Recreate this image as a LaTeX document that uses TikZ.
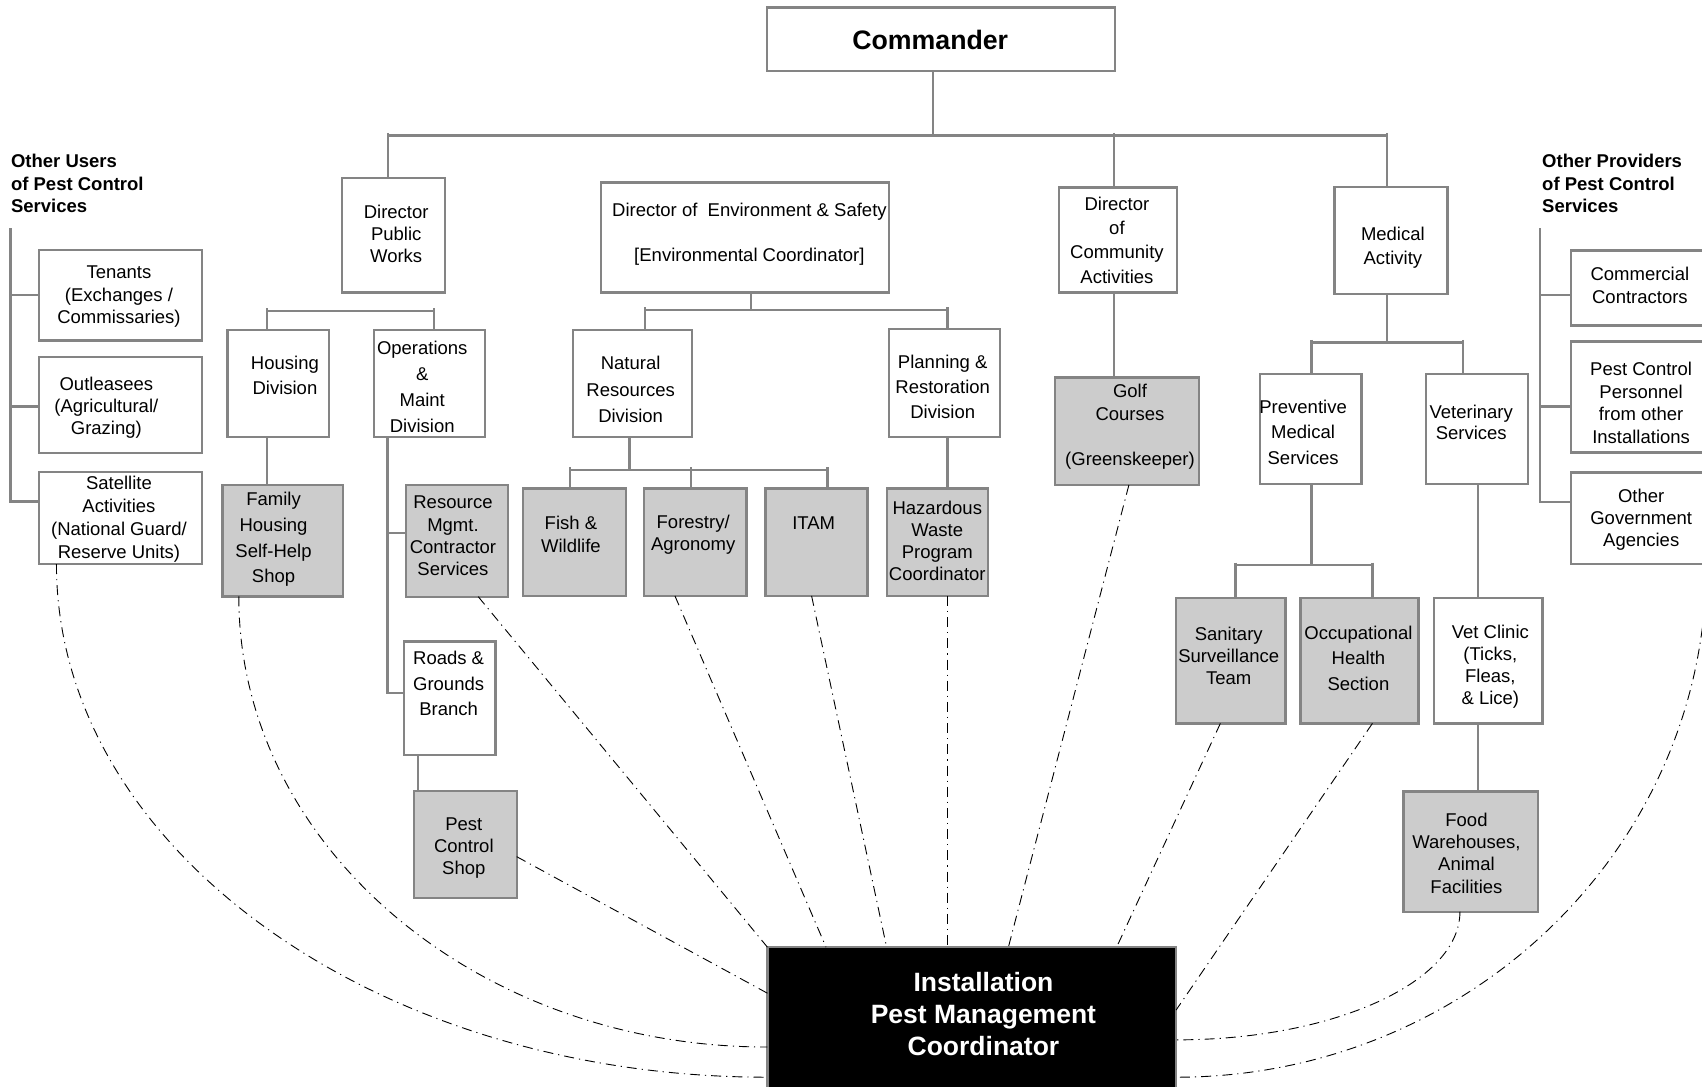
\documentclass[tikz,border=0pt]{standalone}
\usepackage{fontspec}
\setmainfont{Liberation Sans}
\usetikzlibrary{fit,calc}
\definecolor{lgray}{RGB}{132,132,132}
\definecolor{boxgray}{RGB}{204,204,204}
\begin{document}
\begin{tikzpicture}[x=1.0855pt, y=-1.0855pt,
  box/.style={rectangle, draw=lgray, line width=2.3pt, fill=white, inner sep=0pt, outer sep=0pt},
  gbox/.style={box, fill=boxgray},
  conn/.style={draw=lgray, line width=2.3pt},
  dd/.style={draw=black, line width=0.9pt, dash pattern=on 10pt off 5pt on 1.2pt off 5pt},
  txt/.style={align=center, inner sep=0pt, yshift=-1.5pt, font=\fontsize{18.5}{#1}\selectfont},
  txt/.default=22.4,
  hdr/.style={align=left, anchor=west, inner sep=0pt, font=\bfseries\fontsize{18.5}{22.5}\selectfont}]

\path[use as bounding box, fill=white] (0,0) rectangle (1568,1001);

% ---------- boxes ----------
\node[box, fit={(706.4,6.8) (1027.2,65.1)}] (cmd) {};
\node[box, fit={(315.3,164.3) (409.8,269.6)}] (dpw) {};
\node[box, fit={(553.7,168) (818.7,269.6)}] (ens) {};
\node[box, fit={(975.9,172.6) (1084,269.6)}] (dca) {};
\node[box, fit={(1229.4,172) (1333.5,270.8)}] (med) {};
\node[box, fit={(36,230.3) (186,313.8)}] (ten) {};
\node[box, fit={(36,328.6) (186,417.6)}] (outl) {};
\node[box, fit={(36,435) (186,519.6)}] (sat) {};
\node[box, fit={(1447,230.9) (1576,300)}] (comm) {};
\node[box, fit={(1447,314.7) (1576,417)}] (pcp) {};
\node[box, fit={(1447,435.4) (1576,519.9)}] (ogov) {};
\node[box, fit={(209.7,304) (303,402.3)}] (hdiv) {};
\node[box, fit={(344.5,304) (446.8,402.9)}] (opsd) {};
\node[box, fit={(527.9,304) (637.5,402.3)}] (nrd) {};
\node[box, fit={(819,303.4) (921.2,402.9)}] (prd) {};
\node[gbox, fit={(971.9,347.9) (1104.9,446.8)}] (golf) {};
\node[box, fit={(1160.6,344.6) (1254.4,446.2)}] (pms) {};
\node[box, fit={(1314,344.6) (1408,446.2)}] (vets) {};
\node[gbox, fit={(205,446.8) (316,549.5)}] (fhs) {};
\node[gbox, fit={(373.8,446.8) (468.3,549.7)}] (rmc) {};
\node[box, fit={(372.2,591) (456.6,695.5)}] (roads) {};
\node[gbox, fit={(381.7,728.7) (476,827.6)}] (pcs) {};
\node[gbox, fit={(482,449.9) (576.5,549)}] (fw) {};
\node[gbox, fit={(593.1,449.9) (687.6,549)}] (fa) {};
\node[gbox, fit={(705.2,449.9) (799.3,549)}] (itam) {};
\node[gbox, fit={(817,449.9) (910.5,549)}] (hw) {};
\node[gbox, fit={(1083.7,551.2) (1184.3,666.4)}] (sst) {};
\node[gbox, fit={(1198.2,551.2) (1306.9,666.4)}] (ohs) {};
\node[box, fit={(1320.9,551.2) (1421.1,666.4)}] (vcl) {};
\node[gbox, fit={(1293,729.3) (1416.9,839.9)}] (food) {};
\node[box, fill=black, fit={(707,872.6) (1083.5,1012)}] (pmc) {};

% ---------- solid connectors ----------
\coordinate (mb-l) at (357.6,124.8);
\coordinate (mb-c) at (859.4,124.8);
\coordinate (mb-d) at (1026.5,124.8);
\coordinate (mb-r) at (1277.8,124.8);
\draw[conn] (mb-l) -- (mb-r);
\draw[conn] (cmd.south -| mb-c) -- (mb-c);
\draw[conn] ([yshift=2.7pt]mb-l) -- (dpw.north -| mb-l);
\draw[conn] ([yshift=2.7pt]mb-d) -- (dca.north -| mb-d);
\draw[conn] ([yshift=2.7pt]mb-r) -- (med.north -| mb-r);

\coordinate (db-l) at (246,286.5);
\coordinate (db-r) at (400,286.5);
\draw[conn] (db-l) -- (db-r);
\draw[conn] ([yshift=2.7pt]db-l) -- (hdiv.north -| db-l);
\draw[conn] ([yshift=2.7pt]db-r) -- (opsd.north -| db-r);
\draw[conn] (hdiv.south -| db-l) -- (fhs.north -| db-l);

\coordinate (eb-l) at (594.2,285.6);
\coordinate (eb-c) at (691.8,285.6);
\coordinate (eb-r) at (873,285.6);
\draw[conn] (eb-l) -- (eb-r);
\draw[conn] (ens.south -| eb-c) -- (eb-c);
\draw[conn] ([yshift=2.7pt]eb-l) -- (nrd.north -| eb-l);
\draw[conn] ([yshift=2.7pt]eb-r) -- (prd.north -| eb-r);
\draw[conn] (prd.south -| eb-r) -- (hw.north -| eb-r);

\coordinate (nb-l) at (525,433);
\coordinate (nb-c) at (580,433);
\coordinate (nb-m) at (636.5,433);
\coordinate (nb-r) at (762.3,433);
\draw[conn] (nb-l) -- (nb-r);
\draw[conn] (nrd.south -| nb-c) -- (nb-c);
\draw[conn] ([yshift=2.7pt]nb-l) -- (fw.north -| nb-l);
\draw[conn] ([yshift=2.7pt]nb-m) -- (fa.north -| nb-m);
\draw[conn] ([yshift=2.7pt]nb-r) -- (itam.north -| nb-r);

\coordinate (ov) at (357.1,0);
\draw[conn] (opsd.south -| ov) -- (ov |- 0,638.7) -- (roads.west |- 0,638.7);
\draw[conn] (ov |- 0,491.3) -- (rmc.west |- 0,491.3);
\draw[conn] (roads.south -| 385.4,0) -- (pcs.north -| 385.4,0);

\draw[conn] (dca.south -| mb-d) -- (golf.north -| mb-d);

\coordinate (kb-l) at (1208.2,315.5);
\coordinate (kb-r) at (1348.1,315.5);
\draw[conn] (kb-l) -- (kb-r);
\draw[conn] (med.south -| mb-r) -- (mb-r |- kb-l);
\draw[conn] ([yshift=2.7pt]kb-l) -- (pms.north -| kb-l);
\draw[conn] ([yshift=2.7pt]kb-r) -- (vets.north -| kb-r);
\coordinate (pb-l) at (1138.3,520.8);
\coordinate (pb-r) at (1264.4,520.8);
\draw[conn] (pb-l) -- (pb-r);
\draw[conn] (pms.south -| kb-l) -- (kb-l |- pb-l);
\draw[conn] ([yshift=2.7pt]pb-l) -- (sst.north -| pb-l);
\draw[conn] ([yshift=2.7pt]pb-r) -- (ohs.north -| pb-r);
\draw[conn] (vets.south -| 1361.7,0) -- (vcl.north -| 1361.7,0);
\draw[conn] (vcl.south -| 1361.7,0) -- (food.north -| 1361.7,0);

\draw[conn] (9.8,210.4) -- (9.8,462) -- (sat.west |- 0,462);
\draw[conn] (9.8,271.8) -- (ten.west |- 0,271.8);
\draw[conn] (9.8,374.6) -- (outl.west |- 0,374.6);
\draw[conn] (1418.5,210.4) -- (1418.5,462.2) -- (ogov.west |- 0,462.2);
\draw[conn] (1418.5,271.8) -- (comm.west |- 0,271.8);
\draw[conn] (1418.5,374.6) -- (pcp.west |- 0,374.6);

% ---------- dash-dot links ----------
\draw[dd] (sat.south -| 52,0) .. controls (52,780.7) and (345.2,992.4) .. (pmc.west |- 0,992.4);
\draw[dd] (fhs.south -| 220,0) .. controls (220,778.8) and (438,964.6) .. (pmc.west |- 0,964.6);
\draw[dd] (rmc.south -| 440.6,0) -- (pmc.north west);
\draw[dd] (pcs.east |- 0,789.2) -- (pmc.west |- 0,915);
\draw[dd] (fa.south -| 621.8,0) -- (pmc.north -| 761,0);
\draw[dd] (itam.south -| 747.7,0) -- (pmc.north -| 816.8,0);
\draw[dd] (hw.south -| 873,0) -- (pmc.north -| 873,0);
\draw[dd] (golf.south -| 1040,0) -- (pmc.north -| 929,0);
\draw[dd] (sst.south -| 1124.3,0) -- (pmc.north -| 1028.7,0);
\draw[dd] (ohs.south -| 1264.4,0) -- (pmc.east |- 0,930.5);
\draw[dd] (food.south -| 1345,0) .. controls (1345,905.1) and (1227.9,958) .. (pmc.east |- 0,958);
\draw[dd] (ogov.south -| 1572,0) .. controls (1572,780.9) and (1353.3,992.4) .. (pmc.east |- 0,992.4);

% ---------- texts ----------
\node[inner sep=0pt, font=\bfseries\fontsize{26.7}{30}\selectfont] (cmd-t) at (857,36.9) {Commander};
\node[hdr] (lh) at (10,169) {Other Users\\of Pest Control\\Services};
\node[hdr] (rh) at (1420.6,169) {Other Providers\\of Pest Control\\Services};
\node[txt=22.5] (ten-t) at (109.6,272) {Tenants\\(Exchanges /\\Commissaries)};
\node[txt=22.3] (outl-t) at (98,374.4) {Outleasees\\(Agricultural/\\Grazing)};
\node[txt=22.9] (sat-t) at (109.6,476.9) {Satellite\\Activities\\(National Guard/\\Reserve Units)};
\node[txt=21.7] (dpw-t) at (365,214.1) {Director\\Public\\Works};
\node[txt=22.2] (ens-t) at (690.4,214.5) {Director of\ \ Environment \& Safety\\[22.2pt]{[}Environmental Coordinator]};
\node[txt=24.2] (dca-t) at (1029,219.9) {Director\\of\\Community\\Activities};
\node[txt=24.3] (med-t) at (1283.2,226.8) {Medical\\Activity};
\node[txt=25] (hdiv-t) at (262.5,344.7) {Housing\\Division};
\node[txt=25.8] (opsd-t) at (389,355) {Operations\\\&\\Maint\\Division};
\node[txt=26.3] (nrd-t) at (581,357.5) {Natural\\Resources\\Division};
\node[txt=25] (prd-t) at (868.5,355.3) {Planning \&\\Restoration\\Division};
\node[txt=22.4] (golf-t) at (1041,392) {Golf\\Courses\\[23pt](Greenskeeper)};
\node[txt=25.5] (pms-t) at (1200.5,396.6) {Preventive\\Medical\\Services};
\node[txt=21.7] (vets-t) at (1355.4,387.7) {Veterinary\\Services};
\node[txt=22.4] (comm-t) at (1510.8,261.5) {Commercial\\Contractors};
\node[txt=22.4] (pcp-t) at (1511.9,369.7) {Pest Control\\Personnel\\from other\\Installations};
\node[txt=22] (ogov-t) at (1512,477.2) {Other\\Government\\Agencies};
\node[txt=25.8] (fhs-t) at (252,495.5) {Family\\Housing\\Self-Help\\Shop};
\node[txt=22.3] (rmc-t) at (417.3,492.3) {Resource\\Mgmt.\\Contractor\\Services};
\node[txt=25.5] (roads-t) at (413.3,628.5) {Roads \&\\Grounds\\Branch};
\node[txt=21.7] (pcs-t) at (427.3,780) {Pest\\Control\\Shop};
\node[txt=22.8] (fw-t) at (526,491) {Fish \&\\Wildlife};
\node[txt=22.8] (fa-t) at (638.6,491.2) {Forestry/\\Agronomy};
\node[txt] (itam-t) at (749.6,480.3) {ITAM};
\node[txt=22] (hw-t) at (863.5,496.5) {Hazardous\\Waste\\Program\\Coordinator};
\node[txt=22] (sst-t) at (1132,603.1) {Sanitary\\Surveillance\\Team};
\node[txt=25.8] (ohs-t) at (1251.5,605.1) {Occupational\\Health\\Section};
\node[txt=21.9] (vcl-t) at (1373,613) {Vet Clinic\\(Ticks,\\Fleas,\\\& Lice)};
\node[txt=22.2] (food-t) at (1351,784.6) {Food\\Warehouses,\\Animal\\Facilities};
\node[txt, text=white, font=\bfseries\fontsize{26.5}{31.8}\selectfont] (pmc-t) at (906,933) {Installation\\Pest Management\\Coordinator};
\end{tikzpicture}
\end{document}
